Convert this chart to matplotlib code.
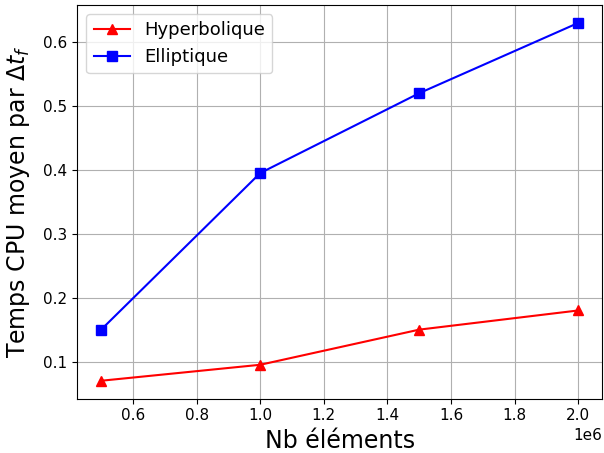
import matplotlib
matplotlib.use('Agg')
import matplotlib.pyplot as plt

nb_elements = [0.5e6, 1.0e6, 1.5e6, 2.0e6]
temps_hyperbolique = [0.07, 0.095, 0.15, 0.18]
temps_elliptique = [0.15, 0.395, 0.52, 0.63]

fig, ax = plt.subplots(figsize=(6.04, 4.53), dpi=100)
ax.plot(nb_elements, temps_hyperbolique, color='red', marker='^',
        markersize=7, label='Hyperbolique')
ax.plot(nb_elements, temps_elliptique, color='blue', marker='s',
        markersize=7, label='Elliptique')
ax.set_xlabel('Nb éléments', fontsize=17)
ax.set_ylabel(r'Temps CPU moyen par $\Delta t_f$', fontsize=17, labelpad=8)
ax.tick_params(labelsize=11)
ax.xaxis.get_offset_text().set_fontsize(11)
ax.legend(fontsize=13, loc='upper left')
ax.grid()
fig.subplots_adjust(left=0.128, right=0.997, top=0.989, bottom=0.12)
fig.savefig('out.png')
